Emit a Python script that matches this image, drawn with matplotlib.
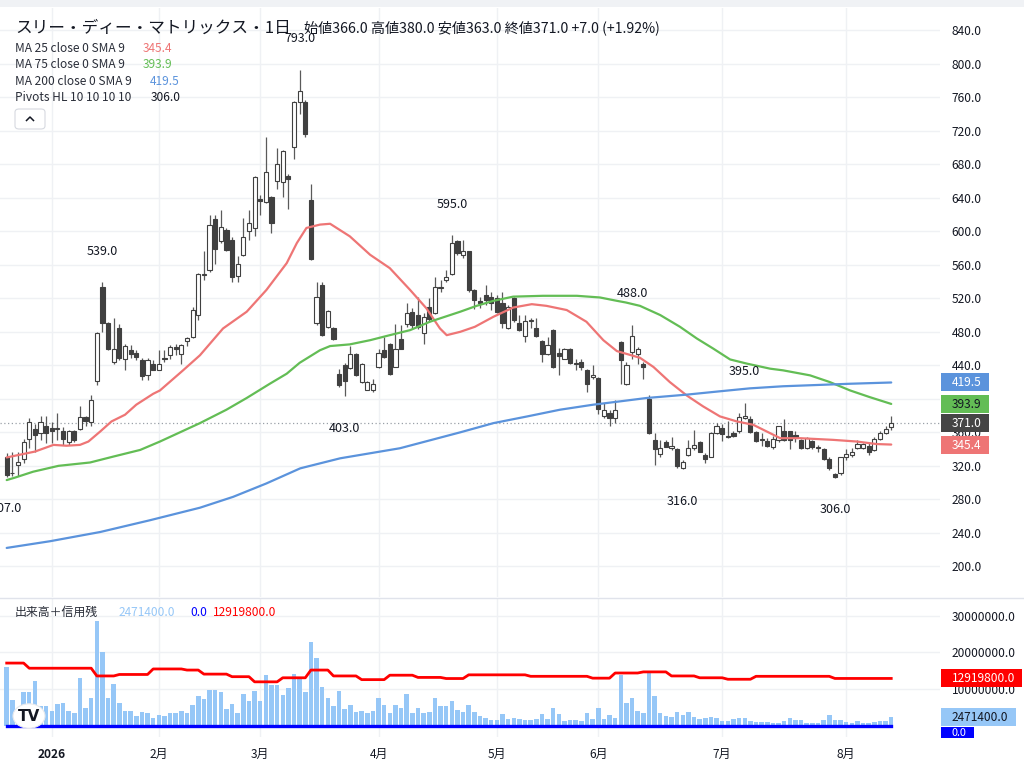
import numpy as np
import pandas as pd
import matplotlib
matplotlib.use("Agg")
import matplotlib.pyplot as plt
from matplotlib.patches import Rectangle, FancyBboxPatch, Circle
from matplotlib.lines import Line2D
from matplotlib.ticker import FuncFormatter

plt.rcParams['font.family'] = ['Noto Sans CJK JP', 'DejaVu Sans']

# ---------------- data ----------------
title = 'スリー・ディー・マトリックス・1日'

# Tokyo market sessions shown (Dec 19 2025 - Aug 14 2026)
first_day = '2025-12-19'
last_day = '2026-08-14'
market_holidays = ['2025-12-31', '2026-01-01', '2026-01-02', '2026-01-12',
                   '2026-02-11', '2026-02-23', '2026-03-20', '2026-04-29',
                   '2026-05-04', '2026-05-05', '2026-05-06', '2026-07-20',
                   '2026-08-11']

opens = [330, 311, 321, 328, 352, 364, 359, 368, 365, 364,
         362, 348, 362, 364, 378, 372, 421, 534, 490, 444,
         484, 447, 458, 455, 446, 428, 442, 435, 449, 452,
         462, 453, 469, 474, 500, 548, 554, 615, 589, 601,
         590, 547, 572, 600, 604, 638, 635, 641, 660, 659,
         666, 701, 754, 754, 637, 490, 536, 486, 484, 430,
         440, 437, 453, 420, 411, 411, 438, 458, 465, 438,
         471, 489, 504, 500, 479, 510, 502, 532, 542, 549,
         588, 572, 576, 530, 517, 524, 521, 520, 514, 484,
         520, 490, 475, 493, 485, 469, 453, 482, 455, 448,
         460, 443, 444, 435, 426, 425, 380, 383, 377, 468,
         418, 456, 454, 442, 400, 351, 334, 349, 341, 340,
         318, 333, 341, 348, 333, 331, 359, 365, 356, 359,
         361, 377, 376, 360, 352, 350, 342, 351, 362, 362,
         357, 351, 341, 350, 341, 340, 328, 310, 311, 330,
         333, 341, 341, 344, 339, 352, 359, 366]
highs = [335, 336, 336, 352, 377, 370, 379, 380, 372, 383,
         366, 363, 363, 391, 380, 404, 480, 539, 492, 496,
         489, 465, 464, 458, 449, 449, 446, 458, 458, 464,
         465, 465, 474, 510, 550, 576, 619, 619, 626, 604,
         593, 571, 616, 625, 666, 643, 712, 642, 699, 697,
         669, 755, 793, 757, 656, 540, 540, 506, 486, 436,
         443, 463, 455, 443, 421, 424, 460, 474, 467, 489,
         488, 514, 509, 522, 502, 520, 546, 542, 554, 595,
         590, 590, 576, 531, 522, 536, 528, 524, 528, 512,
         522, 500, 500, 497, 497, 470, 474, 483, 461, 461,
         461, 448, 448, 436, 440, 426, 395, 387, 398, 469,
         444, 488, 462, 444, 404, 359, 351, 351, 355, 341,
         327, 351, 363, 350, 335, 360, 371, 370, 374, 361,
         383, 395, 379, 361, 359, 353, 356, 367, 376, 362,
         361, 352, 354, 351, 345, 341, 331, 311, 331, 340,
         341, 351, 347, 347, 354, 361, 367, 380]
lows = [307, 308, 308, 323, 341, 337, 351, 347, 347, 351,
        345, 345, 349, 363, 367, 367, 417, 480, 458, 442,
        446, 435, 449, 446, 423, 423, 434, 434, 444, 448,
        452, 442, 463, 473, 494, 542, 551, 561, 586, 576,
        540, 539, 571, 590, 594, 619, 634, 598, 651, 641,
        627, 686, 740, 712, 566, 488, 475, 484, 470, 414,
        403, 436, 427, 419, 410, 408, 437, 449, 428, 438,
        459, 486, 483, 483, 465, 492, 501, 528, 540, 548,
        572, 568, 528, 507, 508, 512, 506, 502, 484, 483,
        492, 481, 468, 485, 474, 444, 452, 437, 428, 447,
        441, 434, 434, 408, 424, 382, 377, 367, 371, 418,
        417, 448, 442, 424, 358, 321, 331, 342, 339, 318,
        316, 332, 339, 336, 323, 331, 358, 350, 353, 355,
        359, 376, 359, 349, 344, 342, 340, 349, 350, 340,
        349, 340, 340, 340, 337, 327, 315, 306, 309, 327,
        331, 340, 340, 333, 338, 351, 358, 363]
closes = [309, 312, 324, 348, 372, 357, 372, 359, 362, 365,
          352, 362, 351, 378, 374, 399, 479, 491, 460, 460,
          449, 463, 454, 450, 427, 446, 435, 442, 447, 462,
          459, 464, 473, 506, 549, 549, 608, 579, 605, 578,
          545, 561, 593, 610, 665, 636, 671, 610, 680, 696,
          662, 754, 768, 716, 567, 521, 476, 505, 471, 416,
          421, 453, 429, 442, 420, 418, 455, 450, 430, 460,
          460, 502, 488, 486, 498, 495, 534, 533, 545, 586,
          574, 577, 530, 518, 514, 518, 514, 504, 490, 510,
          494, 482, 493, 493, 475, 453, 464, 438, 451, 460,
          443, 442, 438, 418, 428, 388, 387, 377, 387, 446,
          440, 475, 459, 438, 359, 340, 341, 343, 344, 320,
          325, 341, 345, 337, 328, 359, 368, 358, 354, 356,
          378, 380, 360, 350, 351, 344, 352, 367, 351, 351,
          355, 341, 353, 343, 341, 328, 317, 307, 330, 334,
          337, 346, 346, 336, 352, 359, 364, 371]

# daily volume, millions of shares
volume_m = [15.9, 7.1, 4.5, 9.3, 9.3, 12.2, 5.5, 5.5, 4.2, 6.0,
            6.2, 4.1, 3.4, 13.0, 4.9, 7.7, 28.6, 20.2, 7.5, 11.5,
            6.2, 4.2, 4.2, 2.7, 3.8, 3.4, 2.2, 2.9, 2.6, 3.6,
            3.4, 4.1, 3.5, 5.6, 8.2, 7.3, 9.8, 9.8, 9.3, 4.5,
            5.9, 3.6, 8.6, 6.8, 9.5, 6.7, 13.8, 11.1, 11.1, 8.4,
            10.2, 14.0, 12.9, 9.3, 22.9, 18.5, 10.6, 7.5, 5.3, 9.5,
            4.5, 5.6, 3.8, 4.2, 3.6, 4.1, 7.5, 5.6, 3.5, 5.6,
            5.0, 8.6, 3.6, 5.0, 3.5, 3.8, 7.7, 5.5, 5.3, 6.7,
            4.3, 3.8, 5.7, 3.8, 2.7, 2.2, 1.6, 1.6, 3.2, 1.8,
            2.2, 1.9, 1.6, 1.6, 1.9, 3.2, 1.9, 5.0, 3.2, 1.3,
            1.6, 1.6, 1.3, 3.4, 1.9, 4.9, 1.9, 2.9, 2.2, 13.8,
            6.2, 7.5, 4.1, 3.5, 14.4, 8.2, 3.6, 2.7, 2.5, 3.8,
            2.9, 3.8, 2.5, 1.9, 2.1, 2.5, 2.3, 1.4, 1.3, 1.8,
            2.2, 2.2, 1.4, 1.1, 1.1, 1.1, 0.8, 0.8, 1.3, 2.2,
            1.6, 1.6, 0.8, 0.8, 0.8, 1.6, 2.9, 1.6, 1.6, 1.1,
            0.7, 1.3, 0.7, 0.8, 1.0, 1.3, 1.3, 2.4714]

# weekly margin balance (信用残), millions: first session index of each report
margin_start = [0, 4, 16, 20, 26, 32, 35, 40, 44, 49, 54, 58, 63, 68, 73,
                78, 82, 93, 104, 108, 113, 118, 123, 128, 133, 147]
margin_level = [17.1, 15.7, 13.6, 14.0, 15.5, 15.2, 14.1, 13.4, 12.0, 13.1,
                15.2, 13.6, 12.6, 13.8, 13.2, 12.9, 13.9, 13.5, 13.0, 14.4,
                14.7, 13.6, 13.1, 12.7, 13.5, 12.9198]
short_margin = 0.0

# moving averages, sampled along the session axis
ma25_at = [0, 5, 8.3, 10.6, 13, 14.5, 16.6, 18.6, 21, 23, 26, 27.2, 31.3,
           34.3, 38.4, 42.6, 46.1, 49.7, 51.5, 53.2, 55.6, 57.4, 60.9, 64.5,
           68, 71.6, 74.5, 76.9, 78.1, 80.5, 83.1, 86.4, 89.9, 93.2, 95.8,
           99.4, 102.9, 105.9, 108.3, 112.4, 114.8, 117.7, 120.7, 123.6,
           126.6, 129.6, 132.5, 135.5, 137.3, 140.8, 146.7, 150.9, 154.4, 157]
ma25 = [330, 337, 345, 344, 345, 349, 361, 373, 381, 393, 406, 410, 434,
        452, 484, 504, 530, 562, 586, 604, 608, 609, 594, 572, 556, 530,
        508, 484, 476, 480, 486, 498, 509, 513, 511, 506, 492, 470, 457,
        449, 438, 420, 404, 391, 379, 373, 369, 359, 353, 353, 351, 349,
        346, 345.4]
ma75_at = [0, 1.5, 4.7, 9.2, 14.8, 18.9, 23.7, 27.2, 34.3, 39, 42.6, 46.7,
           49.7, 52, 55.6, 57.4, 60.9, 64.5, 68, 71.6, 75.1, 78.7, 80.5, 83.4,
           86.4, 89.9, 95.2, 101.2, 105.3, 108.3, 109.9, 112.4, 116, 119.5,
           122.5, 125.4, 128.4, 131.4, 135.5, 137.8, 142.6, 146.1, 149.7,
           153.2, 157]
ma75 = [303, 306, 313, 320, 324, 331, 339, 349, 371, 387, 401, 418, 430,
        443, 458, 463, 465, 470, 476, 482, 492, 500, 504, 511, 517, 522,
        523, 523, 521, 517, 515, 511, 500, 486, 472, 460, 447, 442, 436,
        434, 428, 420, 410, 402, 393.9]
ma200_at = [0, 7.7, 16.6, 25.4, 34.3, 40.2, 46.1, 52.1, 59.2, 69.8, 80.5,
            86.4, 92.4, 98.2, 104.1, 108.9, 113.6, 120.7, 126.6, 131.9, 137.8,
            143.8, 149.7, 157]
ma200 = [222, 230, 241, 255, 270, 283, 299, 317, 329, 341, 360, 371, 379,
         387, 393, 397, 401, 405, 409, 412.5, 415, 416.5, 418, 419.5]

# pivot points (HL 10/10)
pivot_high_idx = [17, 52, 79, 111, 131]
pivot_low_idx = [0, 60, 120, 147]

price_ticks = list(range(200, 841, 40))
volume_ticks = [0, 10_000_000, 20_000_000, 30_000_000]

# ---------------- styling ----------------
W, H = 1024, 780
INK = '#131722'
GRID = '#eff1f4'
UP_FACE, CANDLE_DARK, WICK = '#ffffff', '#404040', '#5a5a5a'
C_MA25, C_MA75, C_MA200 = '#ee7575', '#63bd55', '#5b93dc'
C_VOL, C_MARGIN, C_SHORT = '#96c7f7', '#ff0000', '#0000ff'
FS_AX = 8.6


def fx(x):
    return x / W


def fy(y):
    return 1 - y / H


n = len(closes)
xs = np.arange(n)
dates = pd.bdate_range(first_day, last_day, freq='C', holidays=market_holidays)
months = dates.month.values
month_idx = [0] + [i for i in range(1, n) if months[i] != months[i - 1]]
month_idx = [i for i in month_idx if dates[i].day <= 7]
month_lbl = [str(dates[i].year) if dates[i].month == 1 else f'{dates[i].month}月'
             for i in month_idx]

vol = np.array(volume_m) * 1e6
margin = np.repeat(margin_level, np.diff(margin_start + [n])) * 1e6

fig = plt.figure(figsize=(W / 100, H / 100), dpi=100)
fig.patch.set_facecolor('white')
fig.add_artist(Rectangle((0, fy(7)), 1, 7 / H, transform=fig.transFigure,
                         facecolor='#f0f2f5', edgecolor='none', zorder=0))

# pane geometry (pixels)
PANE_R = 940
x_lo = -6.7 / 5.634
x_hi = x_lo + PANE_R / 5.634

ax = fig.add_axes([0, fy(597), fx(PANE_R), (597 - 8) / H])
axv = fig.add_axes([0, fy(737), fx(PANE_R), (737 - 598) / H], sharex=ax)


def scale_label(v, p):
    # values sitting under the last-value badges are left blank
    if v in (400, 0):
        return ''
    return f'{v:.1f}'


for a in (ax, axv):
    a.set_facecolor('none')
    for s in a.spines.values():
        s.set_visible(False)
    a.yaxis.tick_right()
    a.tick_params(axis='y', length=0, pad=8.4, labelsize=FS_AX, labelcolor=INK)
    a.tick_params(axis='x', length=0)
    a.yaxis.set_major_formatter(FuncFormatter(scale_label))
    for m in month_idx:
        a.axvline(m, color=GRID, lw=1, zorder=0)

ax.set_xlim(x_lo, x_hi)
ax.set_ylim(163.4, 866.6)
ax.set_yticks(price_ticks)
for t in price_ticks:
    ax.axhline(t, color=GRID, lw=1, zorder=0)
plt.setp(ax.get_xticklabels(), visible=False)

# candles
o, h, l, c = map(np.array, (opens, highs, lows, closes))
up = c >= o
ax.vlines(xs, l, h, color=WICK, lw=0.9, zorder=2)
body_lo = np.minimum(o, c)
body_h = np.maximum(np.abs(c - o), 1.0)
ax.bar(xs[up], body_h[up], bottom=body_lo[up], width=0.74,
       facecolor=UP_FACE, edgecolor=CANDLE_DARK, linewidth=0.8, zorder=3)
ax.bar(xs[~up], body_h[~up], bottom=body_lo[~up], width=0.74,
       facecolor=CANDLE_DARK, edgecolor=CANDLE_DARK, linewidth=0.8, zorder=3)

# moving averages
ax.plot(ma25_at, ma25, color=C_MA25, lw=1.6, zorder=4, solid_capstyle='round')
ax.plot(ma75_at, ma75, color=C_MA75, lw=1.6, zorder=4, solid_capstyle='round')
ax.plot(ma200_at, ma200, color=C_MA200, lw=1.6, zorder=4, solid_capstyle='round')

# last price line
ax.axhline(closes[-1], color='#9aa0a8', lw=0.9, ls=(0, (1, 2)), zorder=1)

# pivots
for i in pivot_high_idx:
    ax.annotate(f'{highs[i]:.1f}', (i, highs[i]), xytext=(0, 22.5),
                textcoords='offset points', ha='center', va='center',
                fontsize=9, color=INK, zorder=6)
for i in pivot_low_idx:
    ax.annotate(f'{lows[i]:.1f}', (i, lows[i]), xytext=(0, -23),
                textcoords='offset points', ha='center', va='center',
                fontsize=9, color=INK, zorder=6)

# volume pane
axv.set_ylim(-2.99e6, 34.78e6)
axv.set_yticks(volume_ticks)
for t in volume_ticks[1:]:
    axv.axhline(t, color=GRID, lw=1, zorder=0)
axv.bar(xs, vol, width=0.8, color=C_VOL, zorder=2)
axv.plot(xs, margin, color=C_MARGIN, lw=2.0, zorder=3)
axv.plot(xs, np.full(n, short_margin), color=C_SHORT, lw=2.4, zorder=3)
axv.set_xticks(month_idx)
axv.set_xticklabels(month_lbl, fontsize=FS_AX, color=INK)
axv.tick_params(axis='x', pad=8)
for lbl in axv.get_xticklabels():
    if lbl.get_text().isdigit():
        lbl.set_fontweight('bold')

# pane separator
fig.add_artist(Line2D([0, 1], [fy(597.5), fy(597.5)], transform=fig.transFigure,
                      color='#e0e3eb', lw=1))

# ---------------- header / legends ----------------
fig.text(fx(15), fy(28), title, fontsize=12, color=INK, va='center')
last = n - 1
chg = closes[last] - closes[last - 1]
pct = chg / closes[last - 1] * 100
ohlc_txt = (f'始値{opens[last]:.1f} 高値{highs[last]:.1f} 安値{lows[last]:.1f} '
            f'終値{closes[last]:.1f} {chg:+.1f} ({pct:+.2f}%)')
fig.text(fx(304), fy(28), ohlc_txt, fontsize=10.2, color=INK, va='center')

legend_rows = [('MA 25 close 0 SMA 9', f'{ma25[-1]:.1f}', C_MA25, 143),
               ('MA 75 close 0 SMA 9', f'{ma75[-1]:.1f}', C_MA75, 143),
               ('MA 200 close 0 SMA 9', f'{ma200[-1]:.1f}', C_MA200, 150),
               ('Pivots HL 10 10 10 10', f'{lows[pivot_low_idx[-1]]:.1f}', INK, 151)]
for k, (name, val, col, vx) in enumerate(legend_rows):
    y = 48.5 + k * 16.4
    fig.text(fx(15), fy(y), name, fontsize=8.6, color='#2a2e39', va='center')
    fig.text(fx(vx), fy(y), val, fontsize=8.6, color=col, va='center')

# collapse button
fig.add_artist(FancyBboxPatch((fx(15), fy(129)), fx(30), 20 / H,
                              boxstyle='round,pad=0,rounding_size=0.004',
                              transform=fig.transFigure, facecolor='white',
                              edgecolor='#d6d9e0', lw=0.8, zorder=5))
fig.add_artist(Line2D([fx(26.5), fx(30), fx(33.5)], [fy(120.5), fy(117), fy(120.5)],
                      transform=fig.transFigure, color=INK, lw=1.1, zorder=6))

# volume legend
fig.text(fx(15), fy(612), '出来高＋信用残', fontsize=8.6, color='#2a2e39', va='center')
fig.text(fx(119), fy(612), f'{vol[-1]:.1f}', fontsize=8.6, color=C_VOL, va='center')
fig.text(fx(190), fy(612), f'{short_margin:.1f}', fontsize=8.6, color=C_SHORT, va='center')
fig.text(fx(213), fy(612), f'{margin[-1]:.1f}', fontsize=8.6, color=C_MARGIN, va='center')

# logo badge
fig.add_artist(Circle((fx(29), fy(716)), 16 / W, transform=fig.transFigure,
                      facecolor='white', edgecolor='#e8e9ec', lw=0.8, zorder=7))
fig.text(fx(29), fy(716.5), 'TV', fontsize=11, fontweight='heavy', color='#131722',
         ha='center', va='center', family='DejaVu Sans', zorder=8)

# ---------------- right-scale value badges ----------------
renderer = fig.canvas.get_renderer()


def badge(axis, value, text, face, txt_col, y_top=None, y_bot=None, size=FS_AX):
    yc = axis.transData.transform((0, value))[1]
    y_pix = H - yc
    top = y_pix - 9 if y_top is None else y_top
    bot = y_pix + 9 if y_bot is None else y_bot
    t = fig.text(fx(952), fy((top + bot) / 2 + 0.5), text, fontsize=size,
                 color=txt_col, va='center', ha='left', zorder=11)
    bb = t.get_window_extent(renderer=renderer)
    right = bb.x1 + 7
    fig.add_artist(Rectangle((fx(941), fy(bot)), (right - 941) / W, (bot - top) / H,
                             transform=fig.transFigure, facecolor=face,
                             edgecolor='none', zorder=10))


badge(ax, ma200[-1], f'{ma200[-1]:.1f}', C_MA200, 'white')
badge(ax, ma75[-1], f'{ma75[-1]:.1f}', C_MA75, '#131722')
badge(ax, closes[-1], f'{closes[-1]:.1f}', '#454545', 'white')
badge(ax, ma25[-1], f'{ma25[-1]:.1f}', C_MA25, 'white')
badge(axv, margin[-1], f'{margin[-1]:.1f}', C_MARGIN, 'white')
badge(axv, vol[-1], f'{vol[-1]:.1f}', C_VOL, '#131722')
badge(axv, short_margin, f'{short_margin:.1f}', C_SHORT, 'white',
      y_top=727, y_bot=738, size=7.8)

fig.savefig('out.png', dpi=100)
